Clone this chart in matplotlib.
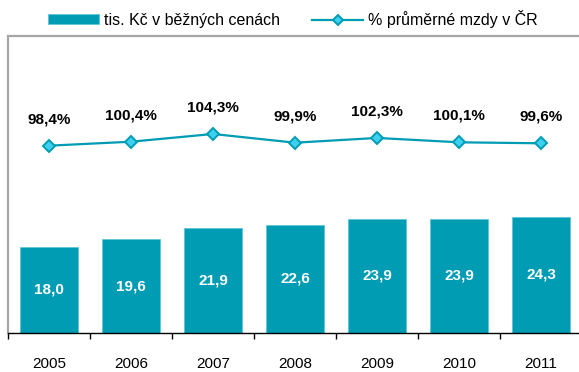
import matplotlib
matplotlib.use("Agg")
import matplotlib.pyplot as plt
import numpy as np

plt.rcParams['font.family'] = ['Liberation Sans', 'DejaVu Sans']

# prumerna mzda - tis. Kc v beznych cenach a % prumerne mzdy v CR
years = ['2005', '2006', '2007', '2008', '2009', '2010', '2011']
mzda_tis = [18.0, 19.6, 21.9, 22.6, 23.9, 23.9, 24.3]
procento = [98.4, 100.4, 104.3, 99.9, 102.3, 100.1, 99.6]

bar_col = '#009CB4'
marker_face = '#3DD0F0'

def cz(v):
    return ('%.1f' % v).replace('.', ',')

fig = plt.figure(figsize=(5.79, 3.72), dpi=100)
ax1 = fig.add_axes([8/579, 39/372, 574/579, 297/372])
x = np.arange(len(years))

bars = ax1.bar(x, mzda_tis, width=0.71, color=bar_col, edgecolor='#5CC8D8', linewidth=0.6,
               label='tis. Kč v běžných cenách', zorder=2)
for xi, v in zip(x, mzda_tis):
    ax1.text(xi, v/2, cz(v), ha='center', va='center', color='white',
             fontsize=11, fontweight='bold', zorder=3)

ax1.set_xlim(-0.5, 6.5)
ax1.set_ylim(0, 62)
ax1.set_yticks([])
ax1.set_xticks(x)
ax1.set_xticklabels(years, fontsize=11)
ax1.set_xticks(np.arange(-0.5, 7.0, 1.0), minor=True)
ax1.tick_params(axis='x', which='major', length=0, pad=17)
ax1.tick_params(axis='x', which='minor', length=4, width=1, color='black', direction='out')

for s in ['top', 'left', 'right']:
    ax1.spines[s].set_color('#A6A6A6')
    ax1.spines[s].set_linewidth(1.6)
ax1.spines['bottom'].set_color('black')
ax1.spines['bottom'].set_linewidth(1.0)

ax2 = ax1.twinx()
ax2.set_ylim(3.95, 153.7)
ax2.set_yticks([])
for s in ax2.spines.values():
    s.set_visible(False)
ln, = ax2.plot(x, procento, color=bar_col, linewidth=1.6, marker='D', markersize=6.5,
               markerfacecolor=marker_face, markeredgecolor=bar_col, markeredgewidth=1.4,
               label='% průměrné mzdy v ČR', zorder=4)
for xi, v in zip(x, procento):
    ax2.annotate(cz(v) + '%', (xi, v), xytext=(0, 19), textcoords='offset points',
                 ha='center', va='center', fontsize=11, fontweight='bold', color='black')

fig.legend([bars, ln], ['tis. Kč v běžných cenách', '% průměrné mzdy v ČR'],
           loc='center', bbox_to_anchor=(0.506, 0.949), ncol=2, frameon=False,
           fontsize=11.5, handlelength=3.2, handleheight=0.6, handletextpad=0.3,
           columnspacing=2.0, markerscale=0.75)

fig.savefig('out.png', dpi=100)
